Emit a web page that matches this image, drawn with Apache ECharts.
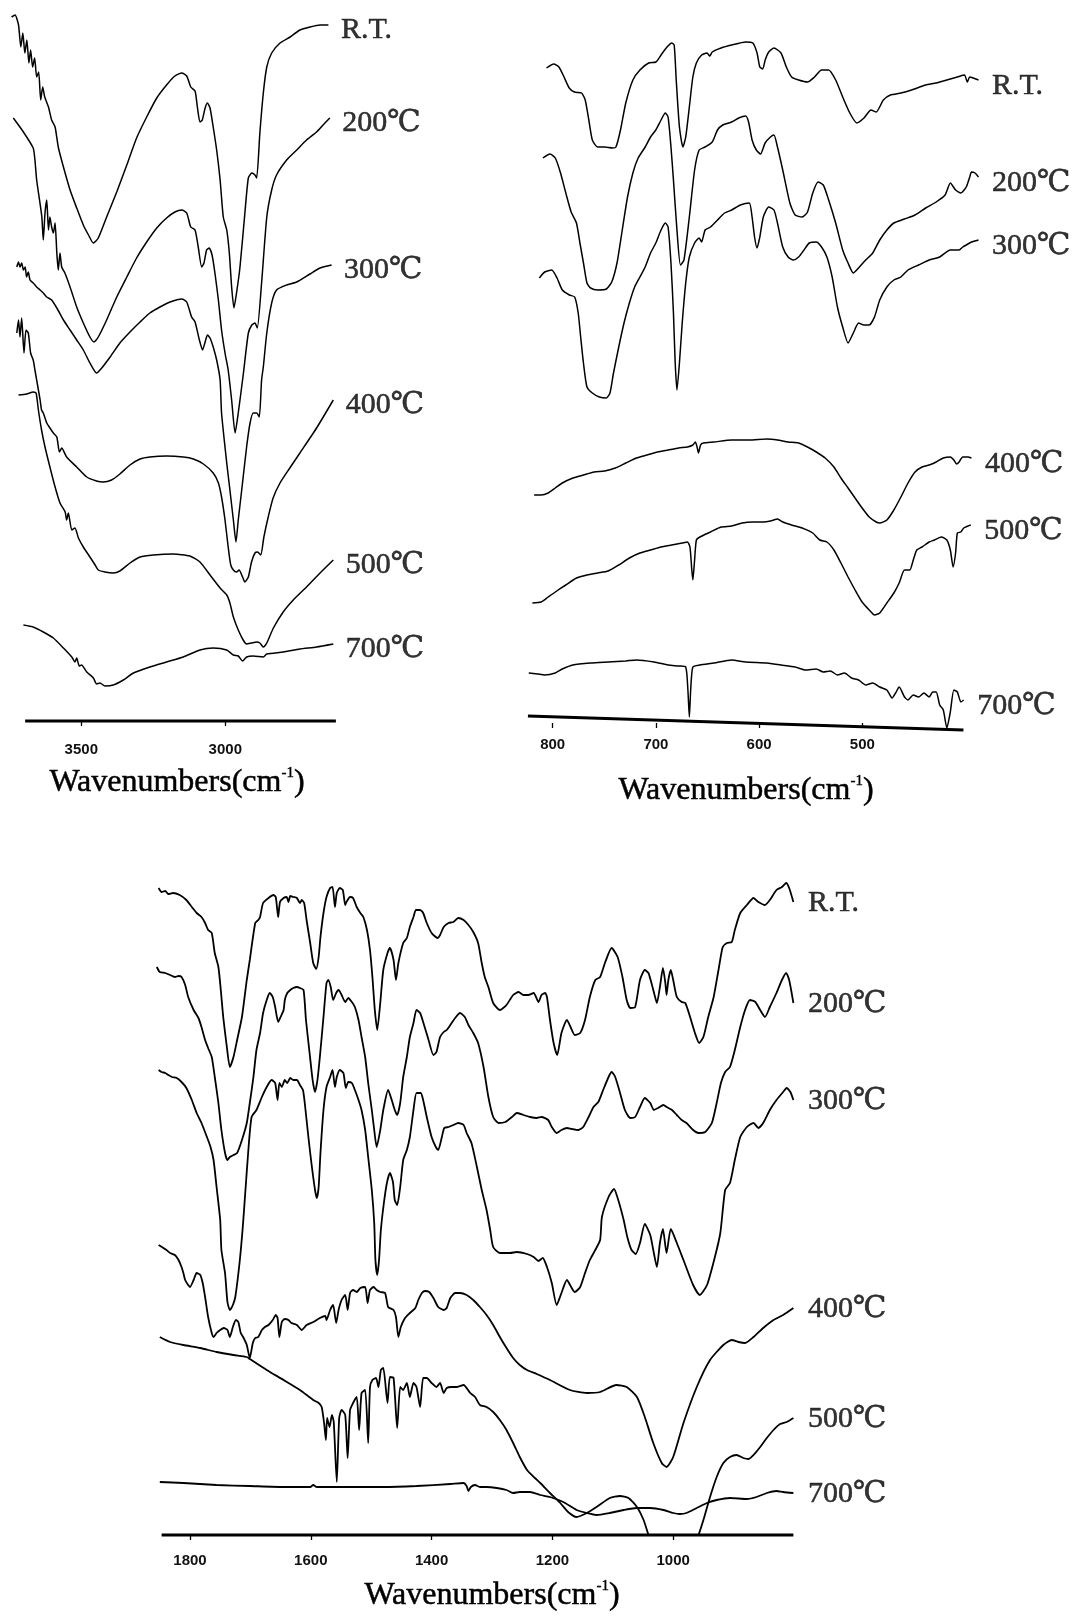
<!DOCTYPE html>
<html>
<head>
<meta charset="utf-8">
<title>FTIR spectra vs temperature</title>
<script src="https://cdn.jsdelivr.net/npm/echarts@6.0.0/dist/echarts.min.js"></script>
<style>
html,body{margin:0;padding:0;background:#fff;}
#chart{width:1073px;height:1617px;}
</style>
</head>
<body>
<div id="chart"></div>
<script>
// ---------- labels and ticks ----------
const curveNames = ['R.T.', '200℃', '300℃', '400℃', '500℃', '700℃'];
const ticksA = [3500, 3000];
const ticksB = [800, 700, 600, 500];
const ticksC = [1800, 1600, 1400, 1200, 1000];

// ---------- panel A: 3700-2600 cm-1 (wavenumber, offset transmittance a.u.) ----------
const a_RT = [[3742,704],[3730,706],[3718,696],[3710,674],[3703,688],[3696,668],[3689,681],[3682,658],[3676,671],[3669,654],[3662,663],[3655,644],[3648,649],[3641,621],[3634,634],[3627,624],[3614,614],[3603,601],[3591,594],[3580,574],[3562,554],[3539,531],[3516,513],[3493,496],[3475,486],[3458,478],[3441,483],[3412,504],[3377,529],[3342,556],[3308,583],[3273,604],[3238,623],[3204,636],[3175,645],[3151,648],[3134,645],[3120,634],[3105,630],[3097,614],[3088,599],[3080,601],[3070,613],[3062,618],[3053,613],[3042,594],[3030,571],[3018,541],[3007,504],[2995,491],[2986,468],[2978,434],[2970,413],[2961,428],[2949,454],[2932,508],[2920,543],[2908,548],[2897,546],[2891,543],[2880,588],[2868,628],[2856,654],[2839,668],[2810,678],[2775,684],[2741,691],[2706,694],[2671,696],[2642,696]];
const a_200 = [[3736,603],[3701,589],[3667,573],[3661,561],[3655,541],[3645,521],[3637,504],[3632,481],[3626,508],[3620,521],[3614,491],[3609,504],[3603,494],[3597,488],[3591,498],[3585,468],[3580,451],[3574,468],[3568,454],[3557,448],[3539,434],[3516,414],[3493,398],[3470,384],[3456,379],[3441,384],[3412,401],[3377,424],[3342,444],[3308,463],[3273,479],[3238,493],[3204,503],[3175,509],[3151,511],[3134,508],[3120,494],[3105,491],[3094,474],[3082,454],[3074,458],[3065,471],[3056,473],[3046,466],[3036,448],[3024,421],[3013,391],[3001,368],[2990,351],[2978,321],[2966,288],[2955,308],[2937,348],[2920,388],[2908,396],[2897,398],[2889,393],[2874,438],[2856,504],[2839,531],[2822,546],[2787,561],[2752,571],[2718,581],[2683,589],[2654,598],[2637,603]];
const a_300 = [[3724,454],[3718,459],[3713,454],[3707,458],[3701,451],[3695,454],[3690,444],[3684,449],[3678,441],[3667,438],[3655,434],[3643,431],[3632,428],[3620,424],[3603,421],[3585,413],[3562,401],[3539,391],[3516,381],[3493,371],[3470,358],[3447,348],[3429,353],[3400,364],[3366,378],[3331,389],[3296,399],[3262,408],[3227,414],[3192,419],[3151,422],[3134,419],[3117,404],[3105,399],[3090,381],[3079,371],[3071,378],[3062,386],[3053,383],[3042,374],[3030,361],[3018,341],[3013,308],[2995,258],[2984,231],[2972,201],[2963,179],[2955,201],[2943,231],[2926,274],[2914,298],[2903,308],[2891,308],[2882,304],[2874,341],[2868,354],[2856,388],[2839,418],[2822,431],[2787,436],[2752,439],[2706,447],[2671,453],[2631,456]];
const a_400 = [[3724,388],[3718,401],[3713,384],[3707,403],[3699,368],[3692,391],[3684,388],[3676,368],[3667,361],[3661,351],[3655,341],[3643,321],[3638,311],[3632,308],[3620,298],[3609,293],[3597,288],[3585,284],[3576,269],[3568,273],[3551,264],[3516,254],[3481,244],[3447,240],[3424,239],[3395,241],[3366,247],[3331,256],[3296,262],[3262,264],[3204,265],[3146,264],[3111,262],[3076,257],[3042,248],[3024,238],[3013,224],[3001,201],[2990,174],[2981,156],[2972,151],[2961,149],[2952,151],[2940,144],[2932,139],[2920,144],[2909,159],[2897,168],[2888,169],[2877,166],[2866,184],[2851,204],[2834,223],[2810,238],[2776,253],[2741,268],[2683,293],[2625,321]];
const a_500 = [[3718,326],[3690,327],[3667,329],[3657,328],[3649,311],[3638,291],[3626,274],[3609,254],[3591,234],[3574,218],[3556,209],[3551,201],[3545,208],[3533,191],[3522,193],[3510,183],[3493,174],[3470,164],[3452,156],[3441,151],[3418,149],[3389,148],[3366,150],[3331,158],[3296,164],[3250,166],[3180,167],[3123,165],[3088,159],[3053,146],[3018,133],[2995,126],[2984,118],[2972,104],[2955,91],[2938,81],[2926,77],[2909,78],[2891,79],[2880,78],[2868,74],[2856,78],[2833,93],[2799,109],[2764,121],[2718,134],[2671,148],[2625,161]];
const a_700 = [[3701,96],[3667,94],[3632,89],[3597,83],[3562,73],[3533,64],[3522,59],[3516,63],[3507,55],[3499,56],[3481,49],[3458,43],[3447,37],[3435,38],[3418,35],[3389,36],[3354,41],[3319,48],[3262,54],[3204,59],[3146,64],[3088,71],[3042,73],[2995,71],[2972,66],[2955,65],[2940,60],[2926,64],[2903,65],[2868,64],[2856,67],[2799,69],[2741,72],[2683,74],[2625,77]];
const a_base = [[3695,0],[2616,0]];

// ---------- panel B: 820-400 cm-1 ----------
const b_RT = [[806,655],[799,659],[794,656],[789,646],[784,635],[779,631],[772,630],[768.5,623],[765,603],[761.6,583],[756.5,576],[749.7,576],[742,575],[738.7,576],[734.3,593],[729.2,620],[722.3,643],[715.5,653],[707,660],[700,661],[695,668],[690,675],[684.7,680],[682.3,678],[680.3,643],[677.2,596],[673.8,576],[671.1,586],[667.6,616],[664.2,646],[660.8,660],[655.7,668],[650.5,670],[647.8,667],[645.4,671],[636.9,675],[626.6,678],[613,681],[606.1,680],[602,670],[599.3,656],[596.5,654],[594.1,663],[590.7,671],[585.6,675],[578.8,670],[573.6,656],[568.5,646],[561.7,643],[553.1,641],[546.3,646],[539.5,653],[532.6,653],[525.8,643],[519,626],[512.1,610],[505.3,600],[498.4,605],[491.6,613],[486.5,611],[479.6,623],[472.8,628],[462.6,630],[452.3,633],[438.6,638],[428.4,640],[418.1,643],[407.9,646],[401,648],[398.3,641],[395.9,646],[392.5,645],[387.4,643]];
const b_200 = [[809.5,565],[802.6,569],[797.5,565],[792.4,550],[787.3,530],[782.1,511],[777,500],[773.6,480],[770.2,460],[766.8,440],[763.3,435],[756.5,433],[748,434],[742.8,441],[737.7,460],[732.6,493],[727.5,526],[722.3,550],[717.2,565],[710.4,576],[705.2,586],[700.1,593],[695,603],[690.9,610],[688.2,606],[685.4,576],[683,543],[679.6,493],[676.2,458],[672.8,463],[667.6,506],[662.5,553],[658.1,573],[652.3,576],[645.4,581],[640.3,593],[635.2,598],[626.6,601],[619.8,605],[613,607],[610.2,601],[606.8,583],[602.7,573],[598.6,569],[594.2,580],[589,586],[585.6,588],[582.2,576],[577.1,553],[570.2,520],[565.1,508],[558.3,506],[553.1,511],[548,530],[542.9,541],[537.8,538],[532.6,523],[525.8,500],[519,473],[513.8,460],[508.7,450],[503.6,455],[496.7,463],[489.9,470],[483.1,483],[476.2,493],[469.4,500],[459.1,504],[448.9,508],[438.6,515],[428.4,521],[419.8,528],[414.7,540],[409.6,533],[404.5,530],[399.3,536],[395.9,546],[394.2,551],[390.8,550],[387.4,546]];
const b_300 = [[812.9,445],[807.8,451],[800.9,453],[795.8,445],[790.7,433],[783.8,428],[778.7,426],[775.3,410],[772.9,386],[770.2,360],[766.8,336],[761.6,330],[754.8,326],[748,325],[744.5,330],[741.1,350],[736,376],[730.9,400],[725.7,420],[720.6,436],[715.5,446],[710.4,456],[705.2,470],[700.1,480],[695,493],[690.9,500],[688.2,496],[685.4,460],[683,410],[681.3,360],[679.6,333],[677.2,360],[674.5,400],[671.1,440],[667.6,466],[662.5,480],[658.1,485],[655.7,481],[652.3,493],[647.1,496],[640.3,503],[633.5,510],[626.6,513],[618.1,518],[609.5,520],[606.8,506],[604.4,486],[602,475],[599.3,486],[595.9,506],[590.7,516],[585.6,513],[582.2,500],[577.1,476],[571.9,466],[566.8,463],[561.7,466],[556.5,473],[551.4,480],[544.6,481],[539.5,476],[534.3,466],[529.2,446],[524.1,416],[519,396],[513.8,380],[508.7,390],[503.6,400],[498.4,398],[493.3,398],[488.2,406],[483.1,423],[476.2,436],[469.4,443],[462.6,446],[455.7,453],[445.5,458],[435.2,463],[425,466],[414.7,473],[406.2,473],[402.7,476],[399.3,478],[394.2,481],[387.4,483]];
const b_400 = [[818,228],[811.2,228],[804.4,230],[797.5,235],[790.7,240],[780.4,245],[770.2,248],[759.9,251],[749.7,252],[739.4,255],[729.2,260],[718.9,265],[708.7,268],[698.4,271],[688.1,273],[677.9,275],[669.4,276],[664.2,278],[661.8,281],[660.1,276],[658.8,270],[656.7,278],[654,280],[643.7,281],[626.6,283],[609.5,283],[592.4,284],[582.2,283],[571.9,281],[561.7,280],[553.1,276],[544.6,271],[536,265],[527.5,256],[520.7,245],[513.8,235],[507,225],[500.2,215],[493.3,206],[486.5,201],[483.1,200],[476.2,203],[469.4,213],[462.6,226],[455.7,240],[448.9,251],[442.1,256],[435.2,258],[428.4,261],[421.5,265],[414.7,266],[411.3,263],[408.6,259],[406.2,261],[402.7,266],[397.6,266],[394.2,265]];
const b_500 = [[819.7,120],[811.2,121],[804.4,126],[797.5,131],[787.3,138],[777,145],[766.8,148],[756.5,150],[746.3,152],[736,158],[725.7,165],[715.5,170],[705.2,173],[695,176],[684.7,178],[674.5,180],[669.4,181],[667,176],[665.2,153],[664.2,143],[662.5,163],[660.8,183],[657.4,186],[647.1,191],[636.9,196],[626.6,197],[616.4,200],[606.1,201],[595.9,201],[589,202],[582.2,204],[577.1,201],[568.5,198],[558.3,195],[548,190],[541.2,183],[534.3,181],[527.5,173],[520.7,160],[513.8,146],[507,133],[500.2,121],[493.3,113],[488.2,108],[483.1,110],[476.2,120],[469.4,130],[464.3,140],[459.1,153],[454,153],[450.6,163],[447.2,173],[442.1,176],[435.2,181],[430.1,183],[423.3,186],[418.1,183],[414.7,173],[412,156],[409.6,170],[407.9,190],[404.5,191],[401.7,195],[397.6,197],[394.9,198]];
const b_700 = [[823.2,50],[814.6,49],[807.8,48],[797.5,50],[790.7,54],[780.4,58],[763.3,60],[746.3,61],[729.2,62],[718.9,63],[701.8,61],[688.1,58],[677.9,57],[671.1,56],[669,33],[667.6,6],[666.3,33],[664.2,56],[657.4,58],[643.7,60],[626.6,63],[613,61],[592.4,60],[578.8,58],[565.1,56],[554.8,53],[544.6,54],[537.8,51],[530.9,52],[524.1,48],[517.3,50],[510.4,45],[503.6,43],[496.7,38],[489.9,40],[483.1,36],[476.2,33],[471.1,25],[467.7,30],[464.3,36],[459.1,26],[455.7,23],[450.6,28],[445.5,26],[440.3,30],[435.2,26],[431.8,31],[428.4,31],[425,18],[421.5,13],[418.1,-5],[414.7,11],[411.3,33],[407.9,31],[404.5,21],[401.7,23]];
const b_base = [[824,7],[402,-7]];

// ---------- panel C: 1850-800 cm-1 ----------
const c_RT = [[1852,647],[1847,643],[1841,644],[1836,641],[1828,642],[1817,640],[1806,635],[1797,628],[1789,622],[1781,618],[1775,612],[1770,605],[1764,602],[1759,582],[1753,568],[1749,545],[1745,518],[1739,488],[1734,468],[1728,478],[1722,495],[1714,518],[1706,555],[1701,575],[1692,612],[1687,615],[1684,618],[1679,632],[1670,637],[1662,640],[1658,638],[1654,618],[1651,633],[1645,637],[1640,638],[1637,633],[1634,639],[1629,638],[1623,637],[1618,632],[1615,635],[1611,632],[1607,615],[1601,592],[1596,572],[1591,566],[1587,578],[1584,598],[1579,622],[1574,638],[1568,647],[1564,648],[1560,628],[1557,642],[1552,647],[1547,645],[1543,630],[1541,633],[1535,638],[1530,637],[1524,628],[1518,622],[1513,618],[1507,605],[1502,585],[1498,558],[1494,525],[1490,505],[1485,532],[1480,565],[1473,582],[1469,587],[1463,575],[1459,555],[1455,572],[1447,592],[1441,597],[1436,608],[1430,618],[1426,625],[1419,625],[1414,622],[1408,612],[1400,602],[1390,597],[1386,600],[1380,608],[1372,612],[1364,613],[1356,617],[1347,615],[1339,610],[1331,603],[1323,592],[1317,572],[1312,558],[1306,548],[1298,532],[1287,525],[1276,530],[1265,540],[1256,543],[1248,540],[1240,540],[1231,542],[1223,533],[1218,540],[1212,542],[1209,538],[1204,515],[1198,492],[1192,480],[1185,502],[1176,515],[1170,508],[1163,500],[1154,502],[1146,515],[1138,538],[1129,555],[1121,558],[1113,572],[1102,587],[1092,578],[1084,558],[1077,535],[1071,527],[1063,528],[1055,555],[1047,565],[1041,562],[1036,552],[1030,538],[1027,532],[1022,548],[1017,567],[1013,552],[1011,540],[1008,555],[1004,565],[1000,555],[994,538],[986,533],[980,532],[972,518],[964,502],[957,492],[950,498],[942,518],[933,538],[925,565],[918,588],[911,592],[903,593],[898,605],[889,622],[878,630],[867,637],[859,633],[848,630],[840,635],[829,645],[820,648],[813,652],[808,647],[801,633]];
const c_200 = [[1855,568],[1850,563],[1841,562],[1833,560],[1825,558],[1819,559],[1814,558],[1808,550],[1803,538],[1794,525],[1786,517],[1781,508],[1775,495],[1770,487],[1764,478],[1759,458],[1753,432],[1748,405],[1742,382],[1738,375],[1734,378],[1728,380],[1722,382],[1714,395],[1706,412],[1701,432],[1695,458],[1690,485],[1684,502],[1679,522],[1673,535],[1668,542],[1663,538],[1659,528],[1654,513],[1650,518],[1645,525],[1643,535],[1639,542],[1634,545],[1629,547],[1623,548],[1618,547],[1612,545],[1608,515],[1602,482],[1597,455],[1593,443],[1589,455],[1585,478],[1579,518],[1574,552],[1571,555],[1567,548],[1563,535],[1558,542],[1554,545],[1549,540],[1543,533],[1538,537],[1532,533],[1527,528],[1521,515],[1516,498],[1510,478],[1505,452],[1499,425],[1495,405],[1491,388],[1485,405],[1480,425],[1472,445],[1466,435],[1461,425],[1457,420],[1452,432],[1447,458],[1441,478],[1436,498],[1430,512],[1425,525],[1419,522],[1414,513],[1405,495],[1397,480],[1392,483],[1386,498],[1380,503],[1375,505],[1369,510],[1361,517],[1353,522],[1345,518],[1339,510],[1331,502],[1323,492],[1314,468],[1306,438],[1298,418],[1289,412],[1278,413],[1267,418],[1259,422],[1248,420],[1237,418],[1226,417],[1218,418],[1207,415],[1201,408],[1193,402],[1185,405],[1176,407],[1168,406],[1157,405],[1149,408],[1140,418],[1132,428],[1124,433],[1116,445],[1107,458],[1102,463],[1096,458],[1088,442],[1080,425],[1071,417],[1063,418],[1055,428],[1047,437],[1038,432],[1032,425],[1025,427],[1016,430],[1011,428],[1002,425],[994,420],[986,415],[978,412],[967,405],[958,402],[947,403],[936,412],[928,432],[921,452],[914,463],[906,468],[898,485],[889,508],[881,525],[873,535],[864,533],[856,525],[848,518],[840,528],[829,542],[820,555],[813,562],[808,555],[801,532]];
const c_300 = [[1852,465],[1847,463],[1841,462],[1836,460],[1830,458],[1822,457],[1814,453],[1806,447],[1797,435],[1789,422],[1781,412],[1772,398],[1766,388],[1761,375],[1756,348],[1750,315],[1748,285],[1742,262],[1738,233],[1734,225],[1729,230],[1725,238],[1718,272],[1713,305],[1709,338],[1703,388],[1698,418],[1690,425],[1681,438],[1673,448],[1665,455],[1659,452],[1655,435],[1652,452],[1648,448],[1643,455],[1639,452],[1634,457],[1629,455],[1623,455],[1618,450],[1613,445],[1610,432],[1604,398],[1599,372],[1593,345],[1590,337],[1587,348],[1584,382],[1579,425],[1574,448],[1568,458],[1564,465],[1560,448],[1557,458],[1552,465],[1546,462],[1542,447],[1538,453],[1532,452],[1527,445],[1521,435],[1516,425],[1510,405],[1505,378],[1499,345],[1495,312],[1493,275],[1490,260],[1487,275],[1484,305],[1479,332],[1474,352],[1469,362],[1464,353],[1461,335],[1457,330],[1452,348],[1447,375],[1441,385],[1436,398],[1430,425],[1425,442],[1418,442],[1414,435],[1408,418],[1400,398],[1393,388],[1389,385],[1383,398],[1379,407],[1372,408],[1364,410],[1356,412],[1347,410],[1342,402],[1334,392],[1325,368],[1317,345],[1309,325],[1303,305],[1298,288],[1287,282],[1270,282],[1259,283],[1242,281],[1231,278],[1223,274],[1216,277],[1209,268],[1201,252],[1193,230],[1185,242],[1176,255],[1168,247],[1163,243],[1154,248],[1146,262],[1138,275],[1129,285],[1121,295],[1118,318],[1107,338],[1098,346],[1091,335],[1082,315],[1076,298],[1069,285],[1062,281],[1055,292],[1047,311],[1038,300],[1033,285],[1027,268],[1022,292],[1017,306],[1011,282],[1004,306],[994,292],[983,275],[967,250],[956,240],[944,250],[931,278],[922,302],[914,345],[906,352],[898,375],[889,398],[878,408],[867,412],[859,407],[851,412],[840,425],[829,435],[818,443],[812,447],[806,443],[801,435]];
const c_400 = [[1852,290],[1844,287],[1839,285],[1833,282],[1825,280],[1819,275],[1814,268],[1811,262],[1808,255],[1803,250],[1800,248],[1794,255],[1789,262],[1783,260],[1779,252],[1775,238],[1770,218],[1764,202],[1761,198],[1756,202],[1750,205],[1744,207],[1738,205],[1734,198],[1729,208],[1724,215],[1720,213],[1716,202],[1712,198],[1706,190],[1701,177],[1696,192],[1692,197],[1687,198],[1681,205],[1676,208],[1670,210],[1663,215],[1658,220],[1655,217],[1652,198],[1648,213],[1643,216],[1637,215],[1632,212],[1623,210],[1615,205],[1607,210],[1596,213],[1585,217],[1576,219],[1574,215],[1568,225],[1563,230],[1558,212],[1554,225],[1549,235],[1543,240],[1539,225],[1535,242],[1530,245],[1524,243],[1518,247],[1510,248],[1506,232],[1502,245],[1496,248],[1491,245],[1485,243],[1477,242],[1472,228],[1463,225],[1459,218],[1455,198],[1451,208],[1444,217],[1436,222],[1427,227],[1422,235],[1416,242],[1411,244],[1404,243],[1397,237],[1389,228],[1380,225],[1375,227],[1369,237],[1361,242],[1353,242],[1342,240],[1331,235],[1320,228],[1309,220],[1298,210],[1287,198],[1276,187],[1265,177],[1254,170],[1242,165],[1226,161],[1204,155],[1171,145],[1143,142],[1121,143],[1094,150],[1077,148],[1060,138],[1047,118],[1033,92],[1019,72],[1011,68],[1000,78],[983,112],[961,148],[939,175],[917,190],[903,195],[892,193],[881,192],[867,198],[851,207],[834,215],[818,220],[801,227]];
const c_500 = [[1850,198],[1833,193],[1811,190],[1783,187],[1756,183],[1728,180],[1706,178],[1701,176],[1673,165],[1645,155],[1618,145],[1596,135],[1587,132],[1582,128],[1578,112],[1575,95],[1573,117],[1569,108],[1565,120],[1562,113],[1557,53],[1553,117],[1549,125],[1543,120],[1539,77],[1535,125],[1530,132],[1524,138],[1520,105],[1516,142],[1510,145],[1505,92],[1502,148],[1498,155],[1492,157],[1488,148],[1484,165],[1480,167],[1473,132],[1469,158],[1463,157],[1457,107],[1452,148],[1447,145],[1441,152],[1436,138],[1430,152],[1425,148],[1419,128],[1414,157],[1408,157],[1400,152],[1392,148],[1386,152],[1380,142],[1375,147],[1367,148],[1358,148],[1347,150],[1336,142],[1328,138],[1320,130],[1309,128],[1298,123],[1287,115],[1276,105],[1265,92],[1254,78],[1242,65],[1229,57],[1220,52],[1204,42],[1187,32],[1174,23],[1160,18],[1143,22],[1127,28],[1105,37],[1088,39],[1074,37],[1060,28],[1049,15],[1041,0],[1033,-15],[1000,-45],[967,-15],[958,0],[950,15],[939,38],[928,58],[917,72],[906,78],[895,80],[884,77],[875,76],[867,80],[856,88],[845,97],[834,105],[823,111],[812,113],[801,117]];
const c_700 = [[1850,53],[1811,52],[1756,50],[1701,49],[1645,48],[1601,48],[1596,50],[1590,48],[1535,48],[1480,48],[1425,49],[1369,51],[1347,52],[1342,49],[1339,44],[1335,48],[1328,50],[1320,48],[1309,48],[1292,47],[1276,45],[1265,42],[1254,43],[1237,43],[1220,40],[1204,38],[1182,33],[1160,25],[1143,22],[1127,20],[1105,22],[1082,25],[1060,27],[1038,27],[1016,25],[1000,22],[989,21],[978,22],[961,27],[944,32],[928,35],[906,37],[878,36],[862,38],[845,42],[829,44],[818,43],[801,42]];
const c_base = [[1847,0],[801,0]];

// ---------- styling / layout ----------
const SERIF = "'Liberation Serif','Times New Roman',Times,serif";
const LABELFONT = "'Liberation Serif','DejaVu Serif','Noto Sans CJK SC',serif";
const SANS = "'Liberation Sans',Arial,Helvetica,sans-serif";

const panels = [
  { grid:{left:6.42, top:0, width:334.08, height:721}, xr:[2600,3760], yMax:721, ticks:ticksA, margin:21,
    curves:[a_RT,a_200,a_300,a_400,a_500,a_700], base:a_base, lw:1.5, clip:false, lOff:[0,5], lDist:12, title:[177,783] },
  { grid:{left:521.74, top:30, width:464.4, height:693}, xr:[380,830], yMax:693, ticks:ticksB, margin:14,
    curves:[b_RT,b_200,b_300,b_400,b_500,b_700], base:b_base, lw:1.5, clip:false, lOff:[0,6], lDist:13, title:[746,791] },
  { grid:{left:153.76, top:870, width:646.28, height:665}, xr:[790,1860], yMax:665, ticks:ticksC, margin:18,
    curves:[c_RT,c_200,c_300,c_400,c_500,c_700], base:c_base, lw:1.8, clip:true, lOff:[0,1], lDist:14, title:[492,1596] }
];

const grid = [], xAxis = [], yAxis = [], series = [], graphic = [];
panels.forEach((p, i) => {
  grid.push(Object.assign({containLabel:false}, p.grid));
  xAxis.push({
    type:'value', gridIndex:i, min:p.xr[0], max:p.xr[1], inverse:true,
    axisLine:{show:false}, splitLine:{show:false},
    axisTick:{show:true, customValues:p.ticks, length:5, lineStyle:{color:'#000', width:1.3}},
    axisLabel:{show:true, customValues:p.ticks, margin:p.margin, fontSize:15, fontWeight:'bold',
               color:'#111', fontFamily:SANS, formatter:(v) => String(Math.round(v))}
  });
  yAxis.push({type:'value', gridIndex:i, min:0, max:p.yMax, show:false});
  p.curves.forEach((c, k) => {
    series.push({
      type:'line', name:curveNames[k], xAxisIndex:i, yAxisIndex:i, data:c,
      showSymbol:false, symbol:'none', smooth:0.2, clip:p.clip, silent:true,
      lineStyle:{color:'#000', width:p.lw}, z:3
    });
  });
  series.push({
    type:'line', xAxisIndex:i, yAxisIndex:i, data:p.base, symbol:'none', showSymbol:false,
    clip:false, silent:true, lineStyle:{color:'#000', width:3.2}, z:4
  });
  series.push({
    type:'scatter', xAxisIndex:i, yAxisIndex:i, symbolSize:1, silent:true, clip:false,
    itemStyle:{color:'rgba(0,0,0,0)'},
    data:p.curves.map((c, k) => ({name:curveNames[k], value:c[c.length - 1]})),
    label:{show:true, position:'right', distance:p.lDist, offset:p.lOff, formatter:'{b}',
           fontFamily:LABELFONT, fontSize:30, color:'#000', textBorderColor:'#000', textBorderWidth:0.5},
    z:5
  });
  graphic.push({
    type:'text', x:p.title[0], y:p.title[1], silent:true,
    style:{
      text:'{m|Wavenumbers(cm}{s|-1}{m|)}', align:'center', verticalAlign:'middle', fill:'#000',
      rich:{
        m:{fontFamily:SERIF, fontSize:32, lineHeight:35, fill:'#000', stroke:'#000', lineWidth:0.5},
        s:{fontFamily:SERIF, fontSize:15, lineHeight:23, verticalAlign:'top', fill:'#000', stroke:'#000', lineWidth:0.4}
      }
    }
  });
});

const chart = echarts.init(document.getElementById('chart'), null, {renderer:'canvas'});
chart.setOption({
  backgroundColor:'#fff',
  animation:false,
  grid, xAxis, yAxis, series, graphic
});
</script>
</body>
</html>
